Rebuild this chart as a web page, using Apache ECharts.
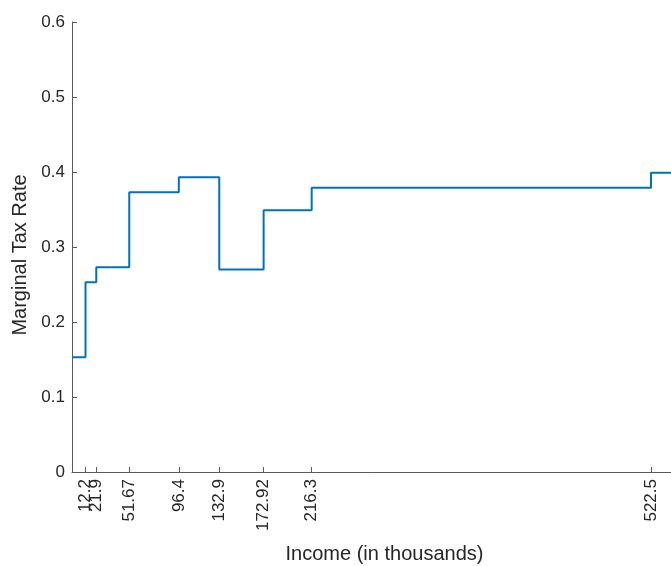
<!DOCTYPE html>
<html>
<head>
<meta charset="utf-8">
<script src="https://cdn.jsdelivr.net/npm/echarts@6/dist/echarts.min.js"></script>
<style>html,body{margin:0;padding:0;background:#fff;}#c{width:671px;height:566px;}</style>
</head>
<body>
<div id="c"></div>
<script>
// Income thresholds (in thousands) where the marginal rate changes
const incomeSteps = [0, 12.2, 21.9, 51.67, 96.4, 132.9, 172.92, 216.3, 522.5, 564];
// Marginal tax rate on each bracket (last value repeated to extend the final step)
const marginalRates = [0.153, 0.253, 0.273, 0.373, 0.393, 0.27, 0.349, 0.379, 0.399, 0.399];
// X tick positions / labels
const xTickValues = [12.2, 21.9, 51.67, 96.4, 132.9, 172.92, 216.3, 522.5];
const xTickLabels = ['12.2', '21.9', '51.67', '96.4', '132.9', '172.92', '216.3', '522.5'];
const yTickLabels = ['0', '0.1', '0.2', '0.3', '0.4', '0.5', '0.6'];

// ECharts hides a label that overlaps its neighbour; the reference shows the
// two crowded labels overlapping, so the 2nd tick goes on an overlay axis.
const mainTicks = xTickValues.filter((v, i) => i !== 1);
const overlayTicks = xTickValues.filter((v, i) => i === 1);

const textColor = '#262626';
const axisColor = '#5a5a5a';
const fontFamily = '"Liberation Sans", Arial, Helvetica, sans-serif';

function xLabel(v) {
  const i = xTickValues.indexOf(v);
  return i >= 0 ? xTickLabels[i] : String(v);
}

const xLabelStyle = {
  show: true, rotate: 90, margin: 7, hideOverlap: false,
  color: textColor, fontSize: 17, fontFamily: fontFamily,
  formatter: xLabel
};

const chart = echarts.init(document.getElementById('c'), null, {renderer: 'canvas'});
chart.setOption({
  animation: false,
  backgroundColor: '#ffffff',
  grid: {left: 72, top: 22, right: -26, bottom: 94, containLabel: false, outerBoundsMode: 'none'},
  xAxis: [{
    type: 'value',
    min: 0,
    max: 564,
    name: 'Income (in thousands)',
    nameLocation: 'middle',
    nameGap: 72,
    nameTextStyle: {color: textColor, fontSize: 20, fontFamily: fontFamily},
    axisLine: {show: true, onZero: false, lineStyle: {color: axisColor, width: 1}},
    axisTick: {show: true, inside: true, length: 5, customValues: mainTicks, lineStyle: {color: axisColor}},
    axisLabel: Object.assign({customValues: mainTicks}, xLabelStyle),
    splitLine: {show: false}
  }, {
    type: 'value',
    position: 'bottom',
    offset: 0,
    min: 0,
    max: 564,
    axisLine: {show: false, onZero: false},
    axisTick: {show: true, inside: true, length: 5, customValues: overlayTicks, lineStyle: {color: axisColor}},
    axisLabel: Object.assign({customValues: overlayTicks}, xLabelStyle),
    splitLine: {show: false}
  }],
  yAxis: {
    type: 'value',
    min: 0,
    max: 0.6,
    interval: 0.1,
    name: 'Marginal Tax Rate',
    nameLocation: 'middle',
    nameGap: 40,
    nameTextStyle: {color: textColor, fontSize: 20, fontFamily: fontFamily, padding: [0, 16, 0, 0]},
    axisLine: {show: true, lineStyle: {color: axisColor, width: 1}},
    axisTick: {show: true, inside: true, length: 5, lineStyle: {color: axisColor}},
    axisLabel: {
      color: textColor, fontSize: 17, fontFamily: fontFamily, margin: 7,
      showMinLabel: true, showMaxLabel: true,
      formatter: function (v) {
        const i = Math.round(v * 10);
        return yTickLabels[i] !== undefined ? yTickLabels[i] : String(v);
      }
    },
    splitLine: {show: false}
  },
  series: [{
    type: 'line',
    step: 'end',
    symbol: 'none',
    clip: true,
    xAxisIndex: 0,
    lineStyle: {color: '#0072BD', width: 2},
    data: incomeSteps.map((x, i) => [x, marginalRates[i]])
  }]
});
</script>
</body>
</html>
